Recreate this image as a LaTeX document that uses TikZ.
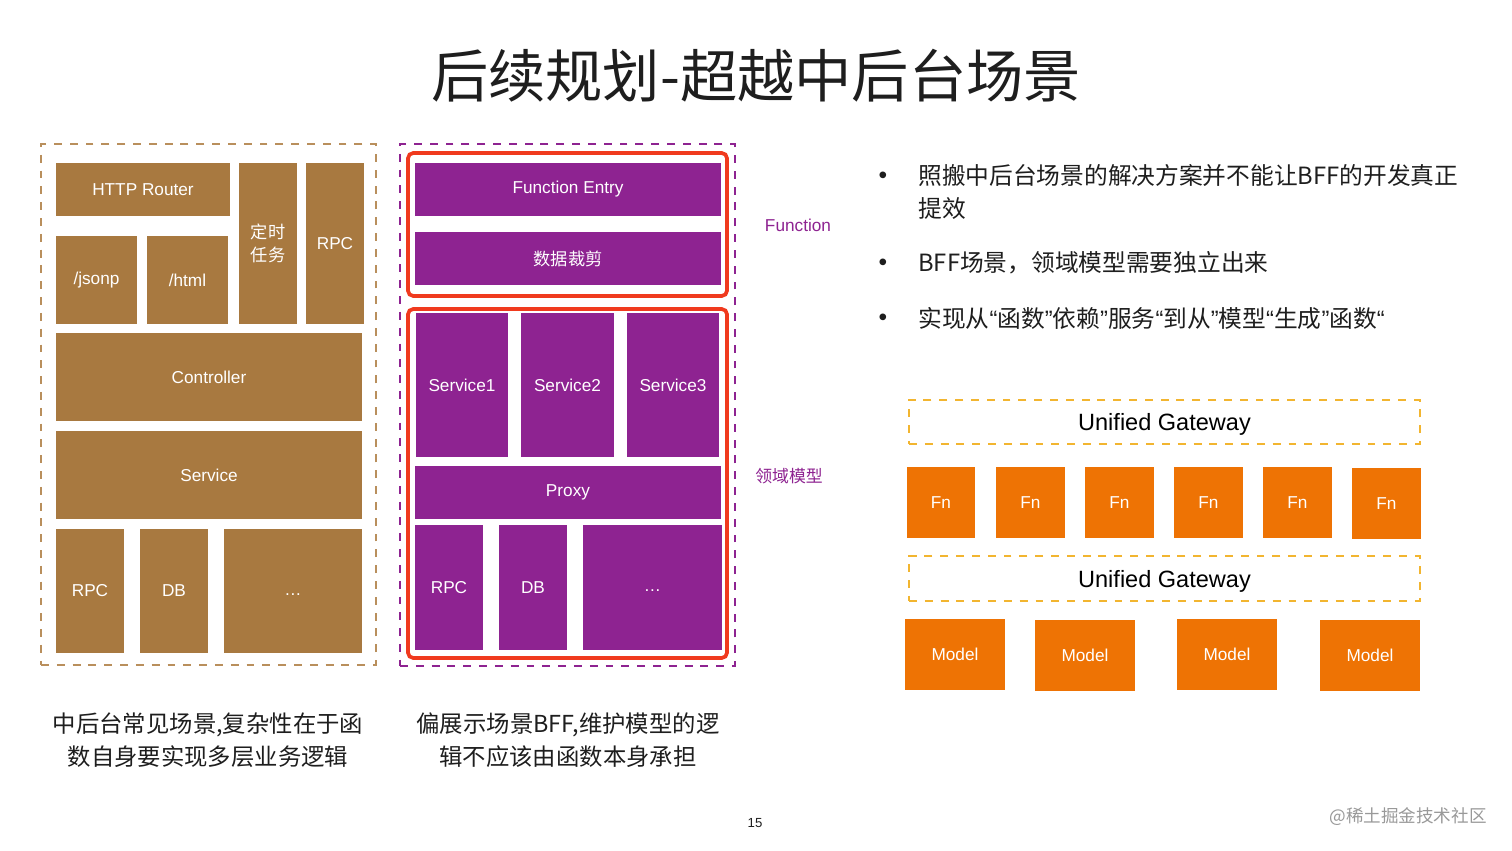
\documentclass[tikz,border=0pt]{standalone}
\usepackage{fontspec}
\setmainfont{Liberation Sans}
\newfontfamily\cjk{Noto Sans CJK SC}
\newfontfamily\latin{Liberation Sans}
\usepackage{tikz}
\usetikzlibrary{fit}
\definecolor{brownfill}{HTML}{A87940}
\definecolor{brownline}{HTML}{B98F5C}
\definecolor{purplefill}{HTML}{8E2391}
\definecolor{redline}{HTML}{F03A1E}
\definecolor{orangefill}{HTML}{EE7304}
\definecolor{goldline}{HTML}{F2B530}
\definecolor{titletext}{HTML}{1E1E1E}
% narrow quotes as printed
\newcommand{\qo}{{\latin “}}
\newcommand{\qc}{{\latin ”}}

\begin{document}
\begin{tikzpicture}[x=0.02cm, y=-0.02cm]
% Define styles
\tikzstyle{block} = [rectangle, inner sep=0pt, outer sep=0pt]
\tikzstyle{boxtext} = [text=white, align=center, font=\fontsize{9.8}{13}\selectfont]
\tikzstyle{boxcjk} = [text=white, align=center, font=\cjk\fontsize{9.8}{13}\selectfont]
\tikzstyle{brownbox} = [block, fill=brownfill]
\tikzstyle{purplebox} = [block, fill=purplefill]
\tikzstyle{orangebox} = [block, fill=orangefill]
\tikzstyle{panel} = [rectangle, inner sep=0pt, outer sep=0pt, line width=0.8pt, dash pattern=on 4.5pt off 4.5pt]
\tikzstyle{redframe} = [rectangle, inner sep=0pt, outer sep=0pt, rounded corners=3pt, draw=redline, line width=2.1pt]
\tikzstyle{gateway} = [panel, draw=goldline]
\tikzstyle{gatetext} = [text=black, yshift=-1.6pt, font=\fontsize{13.4}{16}\selectfont]
\tikzstyle{caption} = [align=center, text=titletext, font=\cjk\fontsize{13.3}{18.8}\selectfont]
\tikzstyle{bullettext} = [anchor=west, align=left, inner sep=0pt, text=titletext, font=\cjk\fontsize{13.5}{18.8}\selectfont]
% Page and title
\fill[white] (0,0) rectangle (1512,851);
\useasboundingbox (0,0) rectangle (1512,851);
\node (title) at (756,76) [text=titletext, font=\cjk\fontsize{32.6}{36}\selectfont] {后续规划-超越中后台场景};
% Left: usual layers
\node (leftpanel) [panel, draw=brownline, fit={(41,144) (376,665)}] {};
\node (router) [brownbox, fit={(56,163) (230,216)}, label={[boxtext]center:HTTP Router}] {};
\node (jsonp) [brownbox, fit={(56,236) (137,324)}, label={[boxtext]center:/jsonp}] {};
\node (html) [brownbox, fit={(147,236) (228,324)}, label={[boxtext]center:/html}] {};
\node (timer) [brownbox, fit={(239,163) (297,324)}, label={[boxcjk]center:定时\\任务}] {};
\node (rpctop) [brownbox, fit={(306,163) (364,324)}, label={[boxtext]center:RPC}] {};
\node (controller) [brownbox, fit={(56,333) (362,421)}, label={[boxtext]center:Controller}] {};
\node (service) [brownbox, fit={(56,431) (362,519)}, label={[boxtext]center:Service}] {};
\node (rpcleft) [brownbox, fit={(56,529) (124,653)}, label={[boxtext]center:RPC}] {};
\node (dbleft) [brownbox, fit={(140,529) (208,653)}, label={[boxtext]center:DB}] {};
\node (moreleft) [brownbox, fit={(224,529) (362,653)}, label={[boxtext, yshift=-2pt]center:\dots}] {};
% Middle: function and domain model
\node (midpanel) [panel, draw=purplefill, fit={(400,144) (735,666)}] {};
\node (fnframe) [redframe, fit={(408,153) (727,296)}] {};
\node (modelframe) [redframe, fit={(408,309) (727,658)}] {};
\node (entry) [purplebox, fit={(415,163) (721,216)}, label={[boxtext]center:Function Entry}] {};
\node (trim) [purplebox, fit={(415,232) (721,285)}, label={[boxcjk]center:数据裁剪}] {};
\node (svc1) [purplebox, fit={(416,313) (508,457)}, label={[boxtext]center:Service1}] {};
\node (svc2) [purplebox, fit={(521,313) (614,457)}, label={[boxtext]center:Service2}] {};
\node (svc3) [purplebox, fit={(627,313) (719,457)}, label={[boxtext]center:Service3}] {};
\node (proxy) [purplebox, fit={(415,466) (721,519)}, label={[boxtext]center:Proxy}] {};
\node (rpcmid) [purplebox, fit={(415,525) (483,650)}, label={[boxtext]center:RPC}] {};
\node (dbmid) [purplebox, fit={(499,525) (567,650)}, label={[boxtext]center:DB}] {};
\node (moremid) [purplebox, fit={(583,525) (722,650)}, label={[boxtext, yshift=-2pt]center:\dots}] {};
\node (fnlabel) at (798,225) [text=purplefill, font=\fontsize{9.8}{12}\selectfont] {Function};
\node (modellabel) at (789,476) [text=purplefill, font=\cjk\fontsize{9.6}{12}\selectfont] {领域模型};
% Captions
\node (leftcap) at (208,740) [caption] {中后台常见场景,复杂性在于函\\数自身要实现多层业务逻辑};
\node (midcap) at (568,740) [caption] {偏展示场景BFF,维护模型的逻\\辑不应该由函数本身承担};
% Right: bullets
\node (dot1) at (883,178) [text=titletext, font=\fontsize{14}{16}\selectfont] {•};
\node (dot2) at (883,265) [text=titletext, font=\fontsize{14}{16}\selectfont] {•};
\node (dot3) at (883,320) [text=titletext, font=\fontsize{14}{16}\selectfont] {•};
\node (item1) at (918,191.5) [bullettext] {照搬中后台场景的解决方案并不能让BFF的开发真正\\提效};
\node (item2) at (918,263) [bullettext] {BFF场景，领域模型需要独立出来};
\node (item3) at (918,318) [bullettext] {实现从\qo 函数\qc 依赖\qc 服务\qo 到从\qc 模型\qo 生成\qc 函数\qo};
% Right: gateways, functions, models
\node (gate1) [gateway, fit={(909,400) (1420,444)}, label={[gatetext]center:Unified Gateway}] {};
\node (fn1) [orangebox, fit={(907,467) (975,538)}, label={[boxtext]center:Fn}] {};
\node (fn2) [orangebox, fit={(996,467) (1065,538)}, label={[boxtext]center:Fn}] {};
\node (fn3) [orangebox, fit={(1085,467) (1154,538)}, label={[boxtext]center:Fn}] {};
\node (fn4) [orangebox, fit={(1174,467) (1243,538)}, label={[boxtext]center:Fn}] {};
\node (fn5) [orangebox, fit={(1263,467) (1332,538)}, label={[boxtext]center:Fn}] {};
\node (fn6) [orangebox, fit={(1352,468) (1421,539)}, label={[boxtext]center:Fn}] {};
\node (gate2) [gateway, fit={(909,556) (1420,601)}, label={[gatetext]center:Unified Gateway}] {};
\node (model1) [orangebox, fit={(905,619) (1005,690)}, label={[boxtext]center:Model}] {};
\node (model2) [orangebox, fit={(1035,620) (1135,691)}, label={[boxtext]center:Model}] {};
\node (model3) [orangebox, fit={(1177,619) (1277,690)}, label={[boxtext]center:Model}] {};
\node (model4) [orangebox, fit={(1320,620) (1420,691)}, label={[boxtext]center:Model}] {};
% Footer
\node (pagenum) at (755,823) [text=titletext, font=\fontsize{7.5}{9}\selectfont] {15};
\node (mark) at (1408,817) [text=black!40, font=\cjk\fontsize{10}{12}\selectfont] {@稀土掘金技术社区};
\end{tikzpicture}
\end{document}
